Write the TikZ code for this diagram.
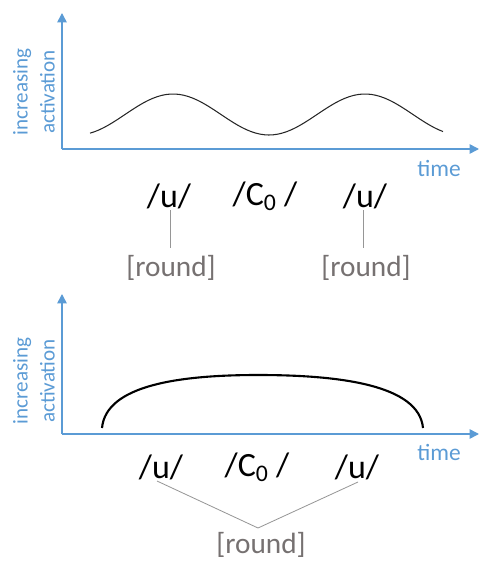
\documentclass[tikz,border=0pt]{standalone}
\usepackage{fontspec}
\setmainfont{Carlito}
\usepackage{xcolor}
\usepackage{tikz}
\usetikzlibrary{arrows.meta,calc,positioning}
\definecolor{axisblue}{RGB}{91,155,213}
\definecolor{featgray}{RGB}{118,113,113}
\definecolor{linkgray}{RGB}{150,150,150}
\tikzset{
  axis/.style={axisblue,line width=1.3pt,-{Triangle[length=8pt,width=8pt]}},
  axislabel/.style={axisblue,font=\fontsize{18}{23}\selectfont,align=center},
  seg/.style={font=\fontsize{29}{34}\selectfont,inner sep=1pt},
  feat/.style={featgray,font=\fontsize{25}{30}\selectfont,inner sep=1pt},
  link/.style={linkgray,line width=0.7pt}
}

\begin{document}
\begin{tikzpicture}[x=0.03cm,y=-0.03cm]
\useasboundingbox (0,0) rectangle (480,562);
% upper panel: two separate [round] gestures
\coordinate (o1) at (62,149);
\coordinate (ytip1) at (62,13);
\coordinate (xtip1) at (479,149);
\draw[axis] (o1) -- (ytip1);
\draw[axis] (o1) -- (xtip1);
\node[axislabel,rotate=90] (act1) at (34,92) {increasing\\activation};
\node[axisblue,font=\fontsize{20}{24}\selectfont] (time1) at (439,168) {time};
\draw[black!85,line width=0.9pt,domain=90:443,samples=80,variable=\s]
  plot ({\s},{114.5-20.5*cos((\s-173)*1.875)});
\node[seg] (u1) at (169,196) {/u/};
\node[seg] (c1) at (265,196) {/C\textsubscript{0} /};
\node[seg] (u2) at (365,196) {/u/};
\node[feat] (r1) at (171,268) {[round]};
\node[feat] (r2) at (366,268) {[round]};
\coordinate (top1) at (170,210);
\coordinate (top2) at (363,210);
\draw[link,shorten >=5pt] (top1) -- (top1 |- r1.north);
\draw[link,shorten >=5pt] (top2) -- (top2 |- r2.north);

% lower panel: one [round] gesture over the whole span
\coordinate (o2) at (62,434);
\coordinate (ytip2) at (62,294);
\coordinate (xtip2) at (479,434);
\draw[axis] (o2) -- (ytip2);
\draw[axis] (o2) -- (xtip2);
\node[axislabel,rotate=90] (act2) at (34,381) {increasing\\activation};
\node[axisblue,font=\fontsize{20}{24}\selectfont] (time2) at (439,452) {time};
\draw[black,line width=1.8pt] (102,428) .. controls (106,385) and (180,375) .. (258,375)
  .. controls (340,375) and (419,385) .. (423,428);
\node[seg] (u3) at (161,467) {/u/};
\node[seg] (c2) at (257,467) {/C\textsubscript{0} /};
\node[seg] (u4) at (357,467) {/u/};
\node[feat] (r3) at (261,545) {[round]};
\coordinate (foot1) at (157,481);
\coordinate (foot2) at (358,482);
\coordinate (join) at (258,528);
\draw[link] (foot1) -- (join) -- (foot2);
\end{tikzpicture}
\end{document}
